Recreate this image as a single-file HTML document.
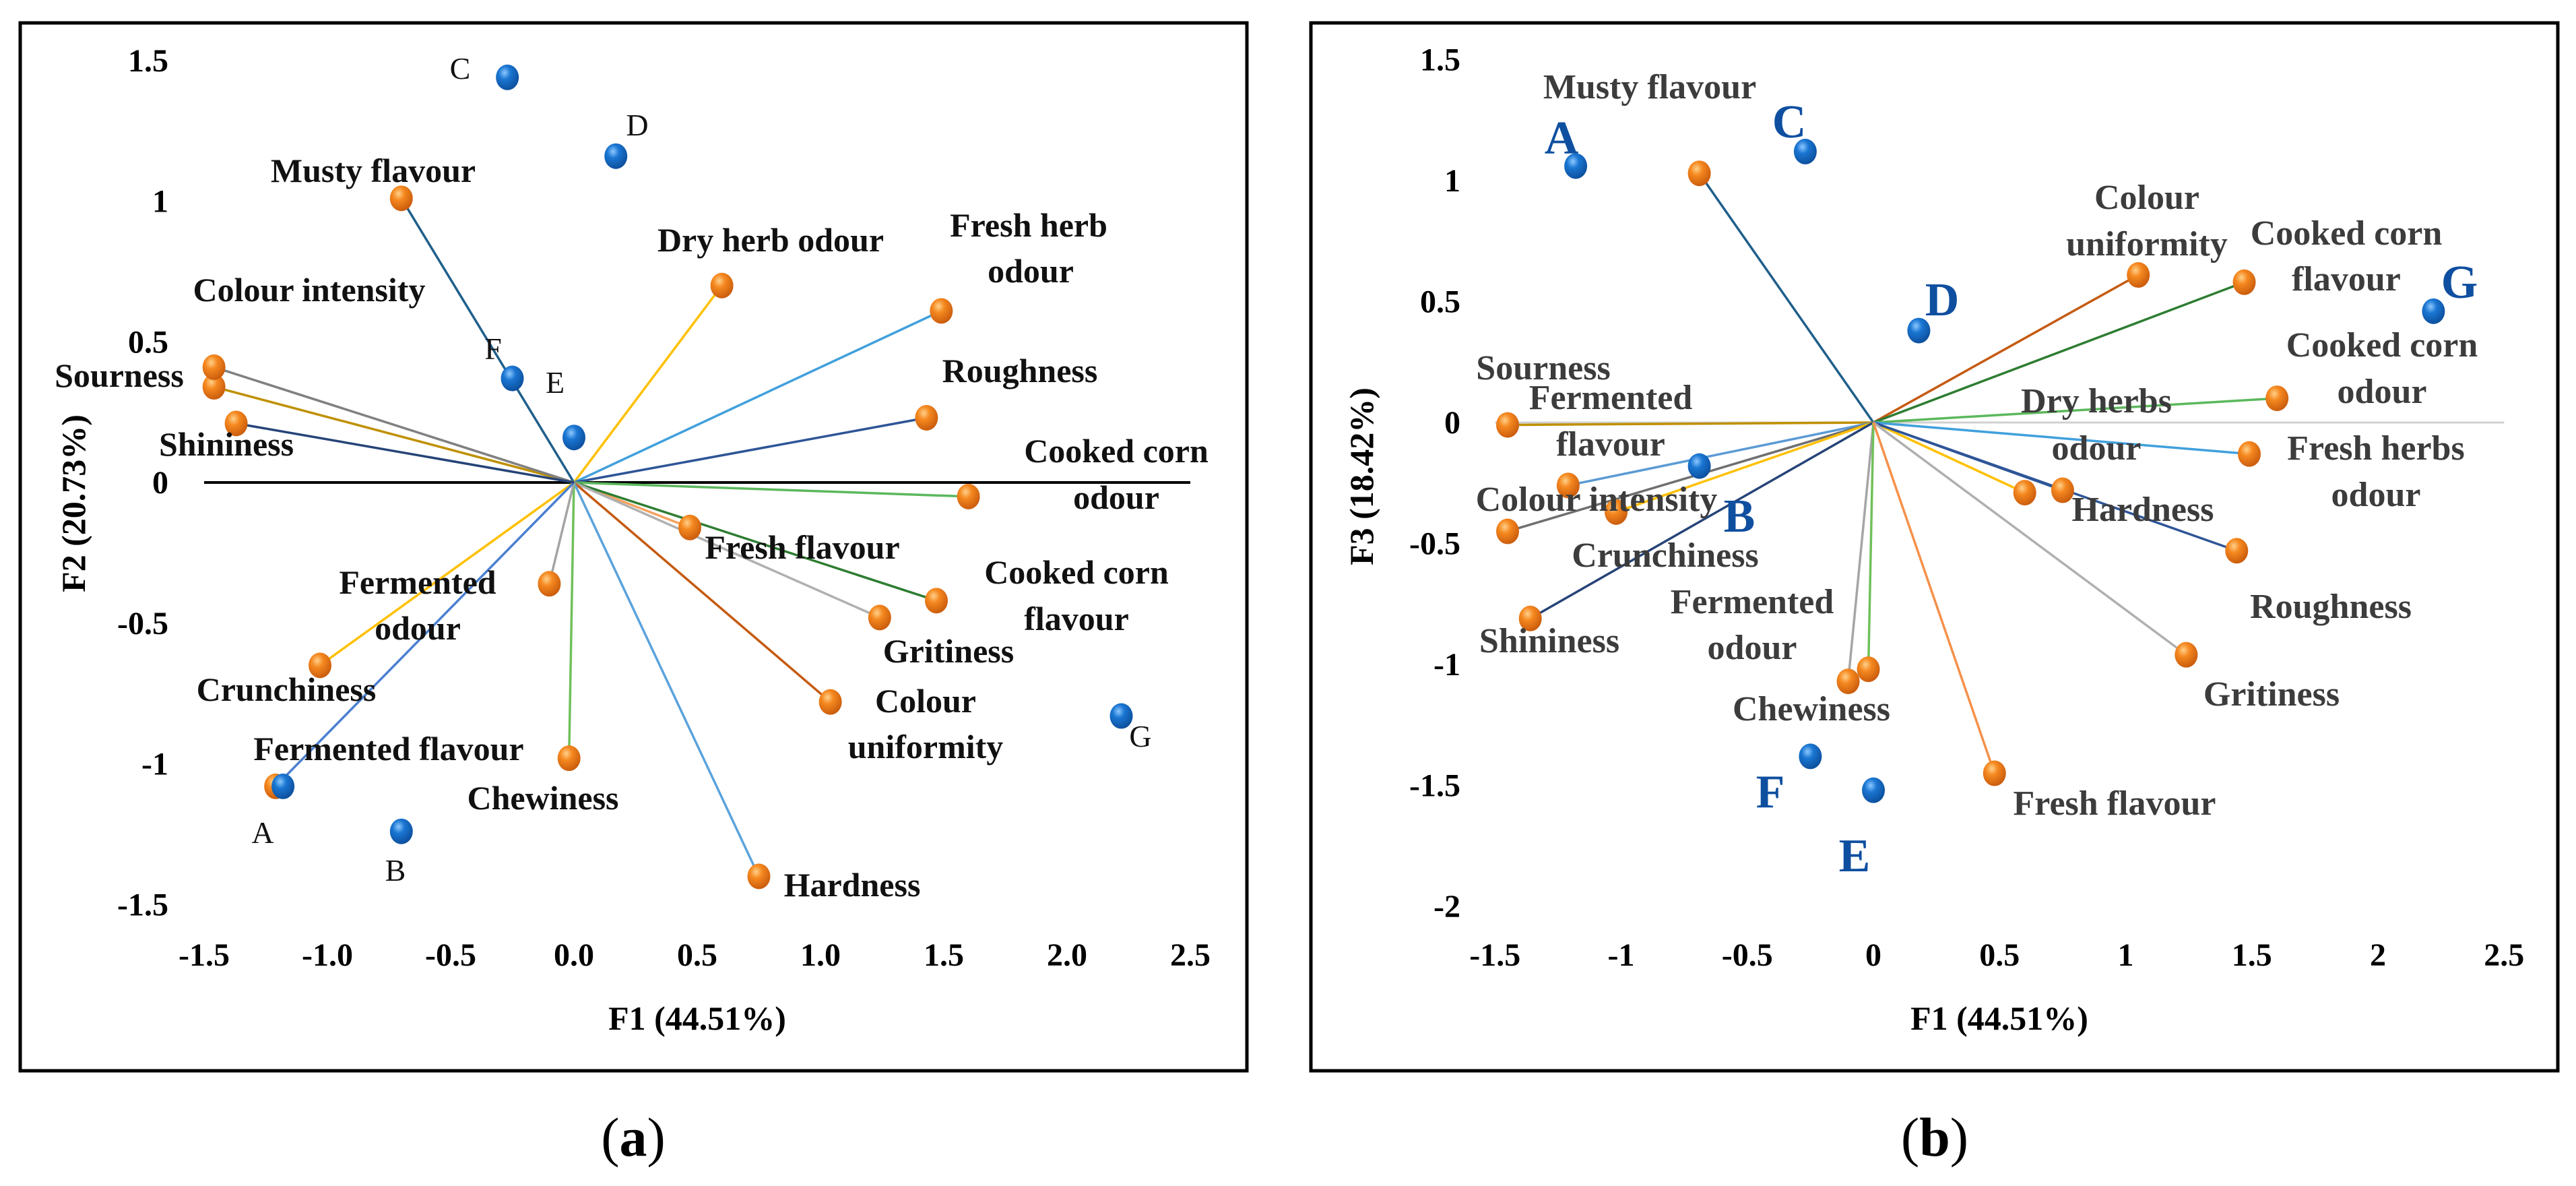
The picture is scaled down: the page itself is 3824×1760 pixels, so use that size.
<!DOCTYPE html>
<html><head><meta charset="utf-8"><style>
html,body{margin:0;padding:0;background:#fff;}
svg{display:block;font-family:"Liberation Serif",serif;}
</style></head><body>
<svg id="chart" width="3824" height="1760" viewBox="0 0 3824 1760" xmlns="http://www.w3.org/2000/svg">
<defs>
<radialGradient id="gOrange" cx="0.38" cy="0.32" r="0.75"><stop offset="0" stop-color="#ffd08a"/><stop offset="0.35" stop-color="#f5881f"/><stop offset="1" stop-color="#c4560a"/></radialGradient>
<radialGradient id="gBlue" cx="0.38" cy="0.32" r="0.75"><stop offset="0" stop-color="#8cc8ff"/><stop offset="0.35" stop-color="#1a76d2"/><stop offset="1" stop-color="#0b4a96"/></radialGradient>
</defs>
<rect x="30" y="34" width="1821" height="1555" fill="none" stroke="#000" stroke-width="5"/>
<rect x="1946" y="34" width="1851" height="1555" fill="none" stroke="#000" stroke-width="5"/>
<g id="pa"></g>
<g id="pb"></g>
<text x="940" y="1715" font-size="82" text-anchor="middle">(<tspan font-weight="bold">a</tspan>)</text>
<text x="2872" y="1715" font-size="82" text-anchor="middle">(<tspan font-weight="bold">b</tspan>)</text>
</svg>
<script>
// ---------- Panel A data (F1 vs F2) ----------
const aAttrNames = ["Musty flavour","Dry herb odour","Fresh herb odour","Roughness","Cooked corn odour","Fresh flavour","Cooked corn flavour","Gritiness","Colour uniformity","Hardness","Chewiness","Fermented odour","Crunchiness","Fermented flavour","Sourness","Colour intensity","Shininess"];
const aAttrF1 = [-0.70,0.60,1.49,1.43,1.60,0.47,1.47,1.24,1.04,0.75,-0.02,-0.10,-1.03,-1.21,-1.46,-1.46,-1.37];
const aAttrF2 = [1.01,0.70,0.61,0.23,-0.05,-0.16,-0.42,-0.48,-0.78,-1.40,-0.98,-0.36,-0.65,-1.08,0.34,0.41,0.21];
const aObsNames = ["A","B","C","D","E","F","G"];
const aObsF1 = [-1.18,-0.70,-0.27,0.17,0.0,-0.25,2.22];
const aObsF2 = [-1.08,-1.24,1.44,1.16,0.16,0.37,-0.83];
const aXTicks = ["-1.5","-1.0","-0.5","0.0","0.5","1.0","1.5","2.0","2.5"];
const aYTicks = ["1.5","1","0.5","0","-0.5","-1","-1.5"];
// ---------- Panel B data (F1 vs F3) ----------
const bAttrNames = ["Musty flavour","Colour uniformity","Cooked corn flavour","Cooked corn odour","Fresh herbs odour","Sourness","Fermented flavour","Colour intensity","Crunchiness","Shininess","Dry herbs odour","Hardness","Roughness","Gritiness","Fermented odour","Chewiness","Fresh flavour"];
const bAttrF1 = [-0.69,1.05,1.47,1.60,1.49,-1.45,-1.21,-1.45,-1.02,-1.36,0.60,0.75,1.44,1.24,-0.10,-0.02,0.48];
const bAttrF3 = [1.03,0.61,0.58,0.10,-0.13,-0.01,-0.26,-0.45,-0.37,-0.81,-0.29,-0.28,-0.53,-0.96,-1.07,-1.02,-1.45];
const bObsNames = ["A","B","C","D","E","F","G"];
const bObsF1 = [-1.18,-0.69,-0.27,0.18,0.0,-0.25,2.22];
const bObsF3 = [1.06,-0.18,1.12,0.38,-1.52,-1.38,0.46];
const bXTicks = ["-1.5","-1","-0.5","0","0.5","1","1.5","2","2.5"];
const bYTicks = ["1.5","1","0.5","0","-0.5","-1","-1.5","-2"];

// styling / layout (not data)
const aColors = ["#1f5f8b","#ffc000","#41a0dc","#2e5597","#5cb85c","#f4a261","#2e7d32","#b0b0b0","#c55a11","#5ba3dc","#70c05a","#a5a5a5","#ffc000","#4a7fd0","#bf9000","#808080","#264478"];
const bColors = ["#1f5f8b","#c55a11","#2e7d32","#5cb85c","#41a0dc","#bf9000","#5b9bd5","#6f6f6f","#ffc000","#264478","#ffc000","#2e5597","#2e5597","#b0b0b0","#a5a5a5","#70c05a","#f4904a"];
const aLabels = [["Musty flavour",554,253],["Dry herb odour",1144,356],["Fresh herb",1527,334],["odour",1530,402],["Colour intensity",459,430],["Roughness",1514,550],["Sourness",177,557],["Shininess",336,659],["Cooked corn",1657,669],["odour",1657,738],["Fresh flavour",1191,812],["Cooked corn",1598,849],["flavour",1598,918],["Fermented",620,864],["odour",620,932],["Gritiness",1408,966],["Colour",1374,1040],["uniformity",1374,1108],["Crunchiness",425,1023],["Fermented flavour",577,1111],["Chewiness",806,1184],["Hardness",1265,1313]];
const aObsLabelPos = [[390,1235],[587,1291],[683,101],[946,185],[824,567],[732,517],[1693,1092]];
const bLabels = [["Musty flavour",2449,129],["Colour",3187,293],["uniformity",3187,362],["Cooked corn",3483,346],["flavour",3483,414],["Cooked corn",3536,512],["odour",3536,581],["Sourness",2291,546],["Fermented",2391,590],["flavour",2391,659],["Dry herbs",3112,595],["odour",3112,665],["Fresh herbs",3527,665],["odour",3527,734],["Colour intensity",2370,741],["Hardness",3181,756],["Crunchiness",2472,824],["Roughness",3460,900],["Fermented",2601,893],["odour",2601,961],["Shininess",2300,951],["Chewiness",2689,1052],["Gritiness",3372,1030],["Fresh flavour",3139,1192]];
const bObsLabelPos = [[2318,204],[2582,765],[2656,180],[2883,444],[2753,1269],[2628,1174],[3651,418]];

const NS = "http://www.w3.org/2000/svg";
function mk(parent, tag, attrs){
  const e = document.createElementNS(NS, tag);
  for (const k in attrs) e.setAttribute(k, attrs[k]);
  parent.appendChild(e);
  return e;
}
function drawPanel(g, cfg){
  const X = v => cfg.x0 + v*cfg.xu;
  const Y = v => cfg.y0 - v*cfg.yu;
  // zero line
  const zl = mk(g,"line",{x1:X(-1.5),x2:X(2.5),y1:Y(0),y2:Y(0),stroke:cfg.zeroColor,"stroke-width":cfg.zeroW});
  
  
  // x ticks
  cfg.xTicks.forEach((t,i)=>{
    const v = -1.5 + i*0.5;
    const tx = mk(g,"text",{x:X(v),y:1433,"font-size":48,"font-weight":"bold","text-anchor":"middle"});
    tx.textContent = t;
    
    
  });
  cfg.yTicks.forEach((t,i)=>{
    const v = 1.5 - i*0.5;
    const ty = mk(g,"text",{x:cfg.yTickX,y:Y(v)+16,"font-size":48,"font-weight":"bold","text-anchor":"end"});
    ty.textContent = t;
    
    
  });
  // vectors
  cfg.ax.forEach((v,i)=>{
    const ln = mk(g,"line",{x1:X(0),y1:Y(0),x2:X(v),y2:Y(cfg.ay[i]),stroke:cfg.colors[i],"stroke-width":3.5});
    
    
  });
  cfg.ax.forEach((v,i)=>{
    const pt = mk(g,"ellipse",{cx:X(v),cy:Y(cfg.ay[i]),rx:17,ry:19,fill:"url(#gOrange)"});
    
    
  });
  cfg.ox.forEach((v,i)=>{
    const pt = mk(g,"ellipse",{cx:X(v),cy:Y(cfg.oy[i]),rx:17,ry:19,fill:"url(#gBlue)"});
    
    
  });
  cfg.labels.forEach(l=>{
    const t = mk(g,"text",{x:l[1],y:l[2]+17,"font-size":cfg.labFs,"font-weight":cfg.labW,"text-anchor":"middle",fill:cfg.labFill});
    t.textContent = l[0];
    
    
  });
  cfg.obsNames.forEach((n,i)=>{
    const p = cfg.obsPos[i];
    const t = mk(g,"text",{x:p[0],y:p[1]+cfg.obsDy,"font-size":cfg.obsFs,"font-weight":cfg.obsW,"text-anchor":"middle",fill:cfg.obsFill});
    t.textContent = n;
    
    
  });
  const xt = mk(g,"text",{x:cfg.xTitleX,y:1528,"font-size":50,"font-weight":"bold","text-anchor":"middle"});
  xt.textContent = "F1 (44.51%)";
  
  
  const yt = mk(g,"text",{x:0,y:0,"font-size":50,"font-weight":"bold","text-anchor":"middle",transform:`translate(${cfg.yTitleX},${cfg.yTitleY}) rotate(-90)`});
  yt.textContent = cfg.yTitle;
  
  
}
drawPanel(document.getElementById("pa"), {
  x0:852, xu:366, y0:716, yu:417.5, zeroColor:"#000", zeroW:4,
  xTicks:aXTicks, yTicks:aYTicks, yTickX:250,
  ax:aAttrF1, ay:aAttrF2, colors:aColors, ox:aObsF1, oy:aObsF2,
  labels:aLabels, labFs:50, labW:"bold", labFill:"#111",
  obsNames:aObsNames, obsPos:aObsLabelPos, obsFs:46, obsW:"normal", obsFill:"#111", obsDy:16,
  xTitleX:1035, yTitleX:126, yTitleY:747, yTitle:"F2 (20.73%)"
});
drawPanel(document.getElementById("pb"), {
  x0:2781, xu:374.5, y0:627, yu:359, zeroColor:"#d0d0d0", zeroW:3,
  xTicks:bXTicks, yTicks:bYTicks, yTickX:2168,
  ax:bAttrF1, ay:bAttrF3, colors:bColors, ox:bObsF1, oy:bObsF3,
  labels:bLabels, labFs:52, labW:"bold", labFill:"#3c3c3c",
  obsNames:bObsNames, obsPos:bObsLabelPos, obsFs:70, obsW:"bold", obsFill:"#0f4fa0", obsDy:24,
  xTitleX:2968, yTitleX:2038, yTitleY:707, yTitle:"F3 (18.42%)"
});
</script>
</body></html>
